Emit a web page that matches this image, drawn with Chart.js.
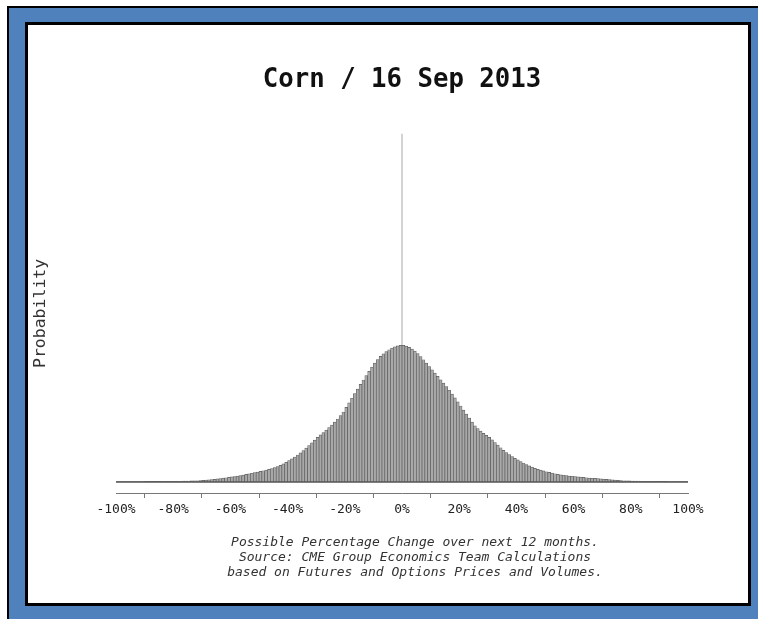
<!DOCTYPE html>
<html>
<head>
<meta charset="utf-8">
<title>Corn / 16 Sep 2013</title>
<script src="https://cdn.jsdelivr.net/npm/chart.js@4.4.1/dist/chart.umd.min.js"></script>
<style>
  html, body { margin: 0; padding: 0; background: #fff; }
  body { width: 758px; height: 619px; position: relative; overflow: hidden; }
  #frame {
    position: absolute; left: 7px; top: 6px; right: 0; bottom: 0;
    background: #4f81bd; border-top: 2px solid #000; border-left: 2px solid #000;
  }
  #panel {
    position: absolute; left: 25px; top: 22px; width: 726px; height: 584px;
    box-sizing: border-box; border: 3px solid #000; background: #fff;
  }
  #wrap { position: absolute; left: 28px; top: 25px; width: 720px; height: 578px; }
  #caption {
    position: absolute; left: 165px; top: 534px; width: 500px;
    text-align: center; white-space: pre;
    font: italic 13px/15px "DejaVu Sans Mono", monospace; color: #333;
  }
</style>
</head>
<body>
<div id="frame"></div>
<div id="panel"></div>
<div id="wrap"><canvas id="chart" width="720" height="578"></canvas></div>
<div id="caption"></div>

<script>
'use strict';

// Histogram of possible % change, 1% bins from -100% to +100% (relative probability)
const BIN_START = -100;
const BIN_WIDTH = 1;
const PROBABILITY = [
  0.5, 0.5, 0.5, 0.5, 0.5, 0.5, 0.5, 0.5, 0.5, 0.5,
  0.6, 0.6, 0.6, 0.6, 0.6, 0.6, 0.7, 0.7, 0.7, 0.7,
  0.8, 0.8, 0.8, 0.9, 0.9, 1.0, 1.1, 1.2, 1.3, 1.5,
  1.7, 1.9, 2.1, 2.4, 2.7, 3.1, 3.5, 3.9, 4.3, 4.7,
  5.1, 5.5, 6.0, 6.5, 7.0, 7.6, 8.2, 8.8, 9.4, 10.0,
  10.7, 11.3, 12.0, 12.7, 13.5, 14.4, 15.5, 16.8, 18.2, 19.8,
  21.4, 23.2, 25.1, 27.1, 29.2, 31.4, 33.9, 36.5, 39.2, 42.0,
  44.7, 47.2, 49.6, 52.0, 54.5, 57.1, 60.0, 63.2, 66.6, 70.2,
  74.8, 79.4, 84.0, 88.6, 93.2, 97.8, 102.3, 106.7, 111.0, 115.1,
  119.2, 122.8, 125.9, 128.5, 130.7, 132.6, 134.2, 135.5, 136.5, 137.0,
  136.9, 136.2, 135.0, 133.3, 131.2, 128.7, 125.8, 122.6, 119.2, 115.7,
  112.5, 109.2, 105.9, 102.5, 99.1, 95.6, 92.0, 88.2, 84.3, 80.3,
  76.2, 72.1, 68.0, 64.0, 60.1, 56.4, 53.6, 51.1, 48.8, 46.7,
  44.7, 42.2, 39.6, 37.0, 34.4, 31.8, 29.5, 27.4, 25.5, 23.8,
  22.2, 20.6, 19.1, 17.6, 16.2, 14.9, 13.8, 12.8, 11.9, 11.1,
  10.3, 9.6, 8.9, 8.3, 7.7, 7.2, 6.8, 6.4, 6.0, 5.8,
  5.5, 5.2, 4.9, 4.6, 4.3, 4.0, 3.8, 3.6, 3.4, 3.2,
  3.0, 2.7, 2.4, 2.1, 1.9, 1.7, 1.5, 1.3, 1.2, 1.1,
  1.0, 0.9, 0.9, 0.8, 0.8, 0.7, 0.7, 0.7, 0.6, 0.6,
  0.6, 0.6, 0.6, 0.5, 0.5, 0.5, 0.5, 0.5, 0.5, 0.5,
];

const X_TICKS = [-100, -80, -60, -40, -20, 0, 20, 40, 60, 80, 100];
const TITLE = 'Corn / 16 Sep 2013';
const Y_LABEL = 'Probability';
const CAPTION_LINES = [
  'Possible Percentage Change over next 12 months.',
  'Source: CME Group Economics Team Calculations',
  'based on Futures and Options Prices and Volumes.',
];

const MONO = '"DejaVu Sans Mono", monospace';

document.getElementById('caption').textContent = CAPTION_LINES.join('\n');

const points = PROBABILITY.map((p, i) => ({ x: BIN_START + BIN_WIDTH * (i + 0.5), y: p }));

// light centre line at 0% and the dark baseline under the bars
const guideLines = {
  id: 'guideLines',
  beforeDatasetsDraw(chart) {
    const { ctx, chartArea, scales: { x, y } } = chart;
    const x0 = x.getPixelForValue(0);
    ctx.save();
    ctx.strokeStyle = '#c4c4c4';
    ctx.lineWidth = 1.5;
    ctx.beginPath();
    ctx.moveTo(x0, chartArea.top);
    ctx.lineTo(x0, y.getPixelForValue(0));
    ctx.stroke();
    ctx.restore();
  },
  afterDatasetsDraw(chart) {
    const { ctx, scales: { x, y } } = chart;
    const y0 = y.getPixelForValue(0);
    ctx.save();
    ctx.strokeStyle = '#555';
    ctx.lineWidth = 1.5;
    ctx.beginPath();
    ctx.moveTo(x.getPixelForValue(X_TICKS[0]), y0);
    ctx.lineTo(x.getPixelForValue(X_TICKS[X_TICKS.length - 1]), y0);
    ctx.stroke();
    ctx.restore();
  },
};

new Chart(document.getElementById('chart'), {
  type: 'bar',
  data: {
    datasets: [{
      data: points,
      backgroundColor: '#a9a9a9',
      borderColor: '#5e5e5e',
      borderWidth: 0.7,
      barPercentage: 1,
      categoryPercentage: 1,
    }],
  },
  plugins: [guideLines],
  options: {
    responsive: false,
    animation: false,
    devicePixelRatio: 1,
    layout: { padding: { left: 0, right: 60, top: 0, bottom: 0 } },
    plugins: {
      legend: { display: false },
      tooltip: { enabled: false },
      title: {
        display: true,
        text: TITLE,
        fullSize: false,
        color: '#111',
        font: { family: MONO, size: 25.7, weight: 'bold' },
        padding: { top: 40, bottom: 38 },
      },
    },
    scales: {
      x: {
        type: 'linear',
        min: -100,
        max: 100,
        offset: false,
        afterBuildTicks: (s) => { s.ticks = X_TICKS.map(v => ({ value: v })); },
        afterFit: (s) => { s.height = 110; },
        ticks: {
          callback: (v) => v + '%',
          color: '#222',
          font: { family: MONO, size: 13 },
          padding: 4,
          maxRotation: 0,
          autoSkip: false,
        },
        grid: { display: true, drawOnChartArea: false, drawTicks: true, tickLength: 5, color: '#777' },
        border: { display: true, color: '#777' },
      },
      y: {
        min: -11,
        max: 349,
        afterFit: (s) => { s.width = 88; },
        ticks: { display: false },
        grid: { display: false },
        border: { display: false },
        title: {
          display: true,
          text: Y_LABEL,
          color: '#333',
          font: { family: MONO, size: 16.5 },
          padding: { top: 3, bottom: 0 },
        },
      },
    },
  },
});
</script>
</body>
</html>
